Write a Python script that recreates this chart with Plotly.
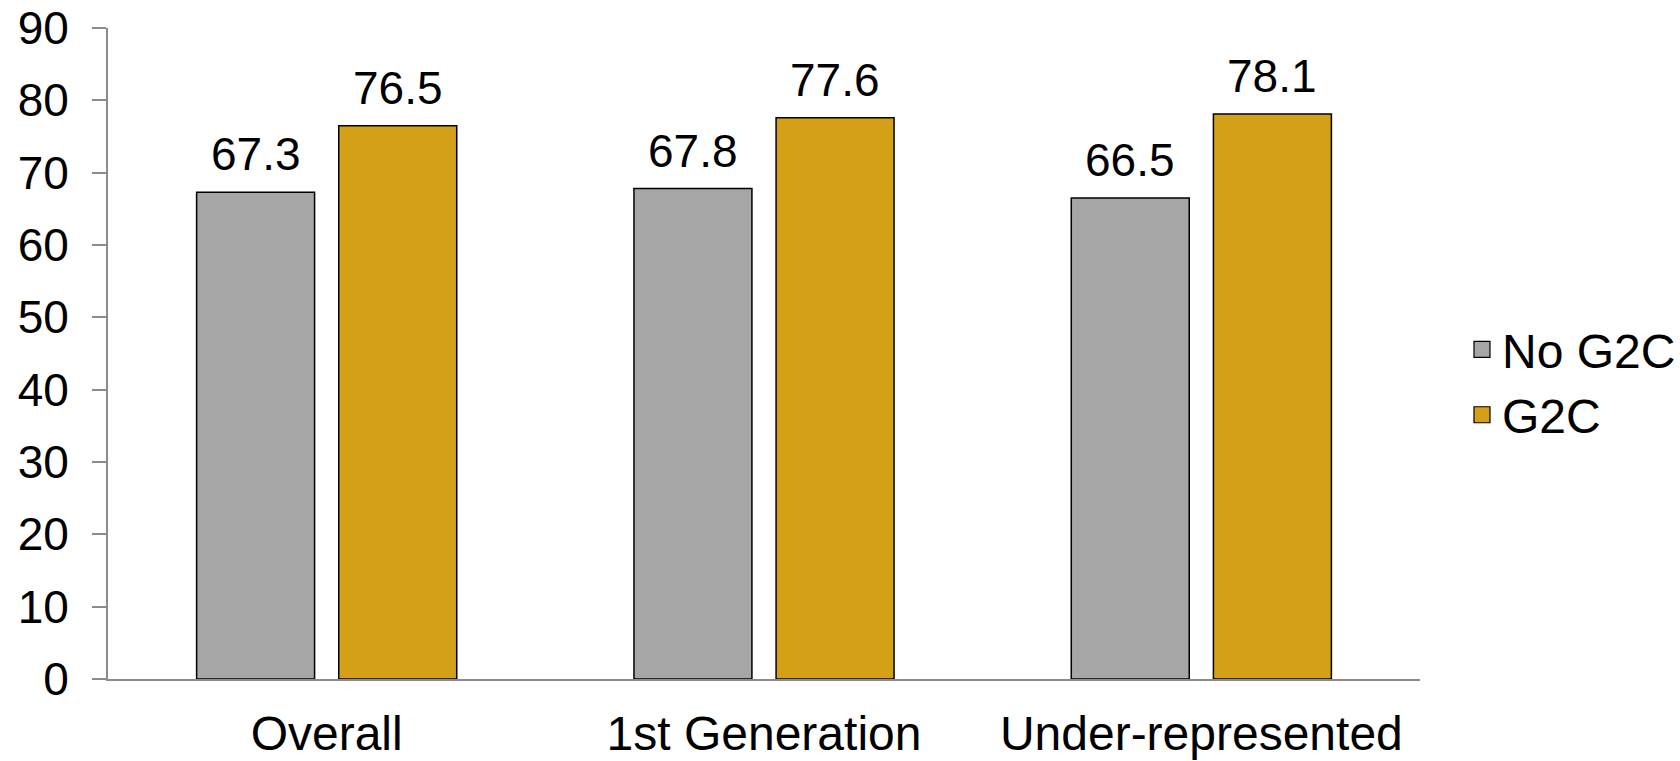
import plotly.graph_objects as go

categories = ["Overall", "1st Generation", "Under-represented"]
no_g2c = [67.3, 67.8, 66.5]
g2c = [76.5, 77.6, 78.1]
y_ticks = [0, 10, 20, 30, 40, 50, 60, 70, 80, 90]

FONT = "Liberation Sans, Arial, sans-serif"
GRAY = "#A6A6A6"
GOLD = "#D4A017"
AXIS = "#8C8C8C"

# plot area geometry (pixels) used for label offsets
L, R, T, B = 108, 260, 28, 82
W = 1680 - L - R
BARGAP, GROUPGAP = 0.35, 0.17
slot_px = W / len(categories) * (1 - BARGAP) / 2

series = [("No G2C", no_g2c, GRAY, -1), ("G2C", g2c, GOLD, 1)]

fig = go.Figure()
for name, vals, color, side in series:
    fig.add_trace(go.Bar(
        name=name, x=categories, y=vals, showlegend=False,
        marker=dict(color=color, line=dict(color="black", width=1.5)),
    ))
    # value labels above each bar
    for cat, v in zip(categories, vals):
        fig.add_annotation(
            x=cat, y=v, text=f"{v:.1f}", showarrow=False,
            xanchor="center", yanchor="bottom",
            xshift=side * slot_px / 2, yshift=10,
            font=dict(family=FONT, size=46, color="black"),
        )
    # legend entry with a larger square swatch
    fig.add_trace(go.Scatter(
        name=name, x=[None], y=[None], mode="markers",
        marker=dict(symbol="square", size=16, color=color,
                    line=dict(color="black", width=1.2)),
    ))

fig.update_layout(
    width=1680, height=761,
    margin=dict(l=L, r=R, t=T, b=B, autoexpand=False),
    paper_bgcolor="white", plot_bgcolor="white",
    barmode="group", bargap=BARGAP, bargroupgap=GROUPGAP,
    font=dict(family=FONT, size=46, color="black"),
    showlegend=True,
    legend=dict(x=1.032, y=0.456, xanchor="left", yanchor="middle",
                font=dict(family=FONT, size=48, color="black"),
                tracegroupgap=0, itemwidth=30),
)
fig.update_xaxes(showline=True, linecolor=AXIS, linewidth=2, ticks="",
                 showgrid=False, tickfont=dict(size=48), automargin=False,
                 ticklabelstandoff=11)
fig.update_yaxes(range=[0, 90], tickvals=y_ticks, showline=True, linecolor=AXIS,
                 linewidth=2, ticks="outside", ticklen=14, tickwidth=2,
                 tickcolor=AXIS, showgrid=False, zeroline=False, automargin=False,
                 tickfont=dict(size=46), ticklabelstandoff=14)

fig.write_html("out.html")
